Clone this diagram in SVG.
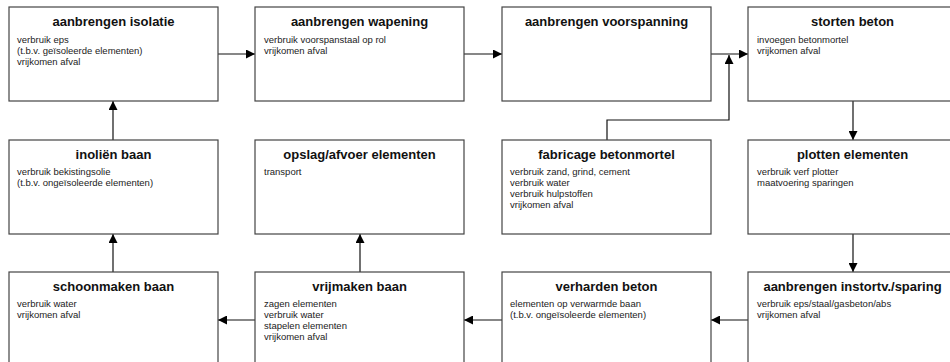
<svg xmlns="http://www.w3.org/2000/svg" width="950" height="362" viewBox="0 0 950 362">
<style>
.box{fill:#fff;stroke:#444;stroke-width:1.2}
.t{font-family:"Liberation Sans",Arial,sans-serif;font-weight:bold;font-size:13px;fill:#111;text-anchor:middle}
.b{font-family:"Liberation Sans",Arial,sans-serif;font-size:9.5px;fill:#222}
.c{fill:none;stroke:#111;stroke-width:1.2}
</style>
<defs>
<marker id="ah" markerUnits="userSpaceOnUse" markerWidth="9" markerHeight="9" refX="8" refY="4" orient="auto" viewBox="0 0 8 8">
<path d="M0,0 L8,4 L0,8 z" fill="#000"/>
</marker>
</defs>
<rect width="950" height="362" fill="#fff"/>
<g id="connectors">
<line class="c" x1="218" y1="54" x2="255" y2="54" marker-end="url(#ah)"/>
<line class="c" x1="464" y1="54" x2="502" y2="54" marker-end="url(#ah)"/>
<line class="c" x1="711" y1="54" x2="748" y2="54" marker-end="url(#ah)"/>
<polyline class="c" points="607,140 607,120 729,120 729,55" marker-end="url(#ah)"/>
<line class="c" x1="853" y1="101" x2="853" y2="140" marker-end="url(#ah)"/>
<line class="c" x1="853" y1="234" x2="853" y2="272" marker-end="url(#ah)"/>
<line class="c" x1="748" y1="320" x2="711" y2="320" marker-end="url(#ah)"/>
<line class="c" x1="502" y1="320" x2="464" y2="320" marker-end="url(#ah)"/>
<line class="c" x1="255" y1="320" x2="218" y2="320" marker-end="url(#ah)"/>
<line class="c" x1="360" y1="272" x2="360" y2="234" marker-end="url(#ah)"/>
<line class="c" x1="113" y1="272" x2="113" y2="234" marker-end="url(#ah)"/>
<line class="c" x1="113" y1="140" x2="113" y2="101" marker-end="url(#ah)"/>
</g>
<g id="n1">
<rect class="box" x="9" y="7" width="209" height="94"/>
<text class="t" x="113.5" y="26">aanbrengen isolatie</text>
<text class="b" x="17" y="42.5">verbruik eps</text>
<text class="b" x="17" y="53.5">(t.b.v. geïsoleerde elementen)</text>
<text class="b" x="17" y="64.5">vrijkomen afval</text>
</g>
<g id="n2">
<rect class="box" x="255" y="7" width="209" height="94"/>
<text class="t" x="359.5" y="26">aanbrengen wapening</text>
<text class="b" x="264" y="42.5">verbruik voorspanstaal op rol</text>
<text class="b" x="264" y="53.5">vrijkomen afval</text>
</g>
<g id="n3">
<rect class="box" x="502" y="7" width="209" height="94"/>
<text class="t" x="606.5" y="26">aanbrengen voorspanning</text>
</g>
<g id="n4">
<rect class="box" x="748" y="7" width="209" height="94"/>
<text class="t" x="852.5" y="26">storten beton</text>
<text class="b" x="757" y="42.5">invoegen betonmortel</text>
<text class="b" x="757" y="53.5">vrijkomen afval</text>
</g>
<g id="n5">
<rect class="box" x="9" y="140" width="209" height="94"/>
<text class="t" x="113.5" y="159">inoliën baan</text>
<text class="b" x="17" y="174.5">verbruik bekistingsolie</text>
<text class="b" x="17" y="185.5">(t.b.v. ongeïsoleerde elementen)</text>
</g>
<g id="n6">
<rect class="box" x="255" y="140" width="209" height="94"/>
<text class="t" x="359.5" y="159">opslag/afvoer elementen</text>
<text class="b" x="264" y="174.5">transport</text>
</g>
<g id="n7">
<rect class="box" x="502" y="140" width="209" height="94"/>
<text class="t" x="606.5" y="159">fabricage betonmortel</text>
<text class="b" x="510" y="174.5">verbruik zand, grind, cement</text>
<text class="b" x="510" y="185.5">verbruik water</text>
<text class="b" x="510" y="196.5">verbruik hulpstoffen</text>
<text class="b" x="510" y="207.5">vrijkomen afval</text>
</g>
<g id="n8">
<rect class="box" x="748" y="140" width="209" height="94"/>
<text class="t" x="852.5" y="159">plotten elementen</text>
<text class="b" x="757" y="174.5">verbruik verf plotter</text>
<text class="b" x="757" y="185.5">maatvoering sparingen</text>
</g>
<g id="n9">
<rect class="box" x="9" y="272" width="209" height="94"/>
<text class="t" x="113.5" y="291">schoonmaken baan</text>
<text class="b" x="17" y="306.5">verbruik water</text>
<text class="b" x="17" y="317.5">vrijkomen afval</text>
</g>
<g id="n10">
<rect class="box" x="255" y="272" width="209" height="94"/>
<text class="t" x="359.5" y="291">vrijmaken baan</text>
<text class="b" x="264" y="306.5">zagen elementen</text>
<text class="b" x="264" y="317.5">verbruik water</text>
<text class="b" x="264" y="328.5">stapelen elementen</text>
<text class="b" x="264" y="339.5">vrijkomen afval</text>
</g>
<g id="n11">
<rect class="box" x="502" y="272" width="209" height="94"/>
<text class="t" x="606.5" y="291">verharden beton</text>
<text class="b" x="510" y="306.5">elementen op verwarmde baan</text>
<text class="b" x="510" y="317.5">(t.b.v. ongeïsoleerde elementen)</text>
</g>
<g id="n12">
<rect class="box" x="748" y="272" width="209" height="94"/>
<text class="t" x="852.5" y="291">aanbrengen instortv./sparing</text>
<text class="b" x="757" y="306.5">verbruik eps/staal/gasbeton/abs</text>
<text class="b" x="757" y="317.5">vrijkomen afval</text>
</g>
</svg>
